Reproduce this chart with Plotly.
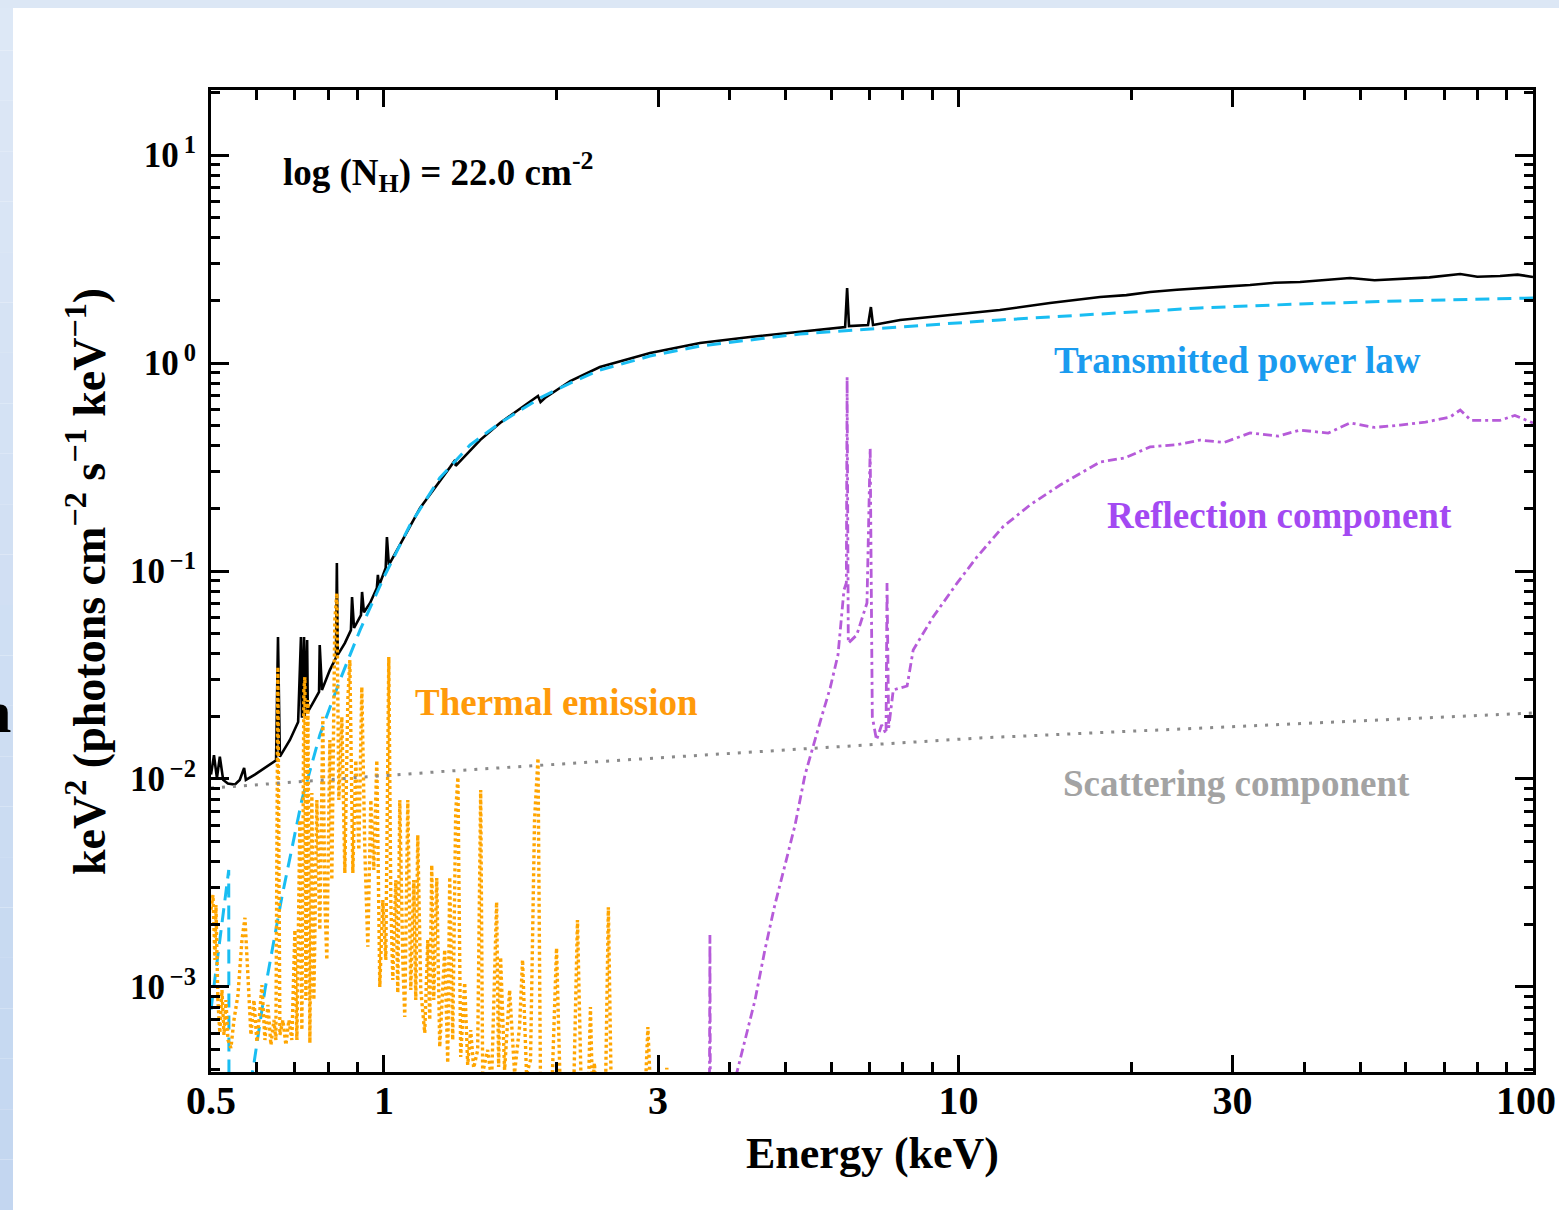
import plotly.graph_objects as go

# ---------------- spectral model components (E in keV, E^2 N(E) in keV^2 ph cm^-2 s^-1 keV^-1)
total_kev = [0.500, 0.506, 0.512, 0.518, 0.525, 0.535, 0.550, 0.561, 0.571, 0.575, 0.596, 0.621,
             0.649, 0.654, 0.659, 0.686, 0.709, 0.717, 0.720, 0.726, 0.728, 0.735, 0.737, 0.749,
             0.771, 0.773, 0.780, 0.805, 0.825, 0.828, 0.831, 0.855, 0.876, 0.880, 0.887, 0.912,
             0.916, 0.923, 0.946, 0.972, 0.976, 0.980, 1.007, 1.012, 1.020, 1.066, 1.156, 1.304,
             1.330, 1.333, 1.470, 1.592, 1.854, 1.873, 1.906, 2.110, 2.376, 2.905, 3.548, 4.336,
             5.300, 6.349, 6.400, 6.449, 6.960, 7.040, 7.100, 7.915, 9.668, 11.80, 14.43, 17.64,
             19.6, 21.55, 24.0, 26.33, 29.0, 32.17, 35.5, 39.31, 43.5, 48.03, 53.0, 58.69, 66.0,
             74.7, 80.0, 87.63, 94.0, 100.0]
total_flux = [0.0105, 0.0130, 0.0101, 0.0128, 0.0099, 0.0095, 0.0094, 0.0099, 0.0113, 0.0099, 0.0105, 0.0113,
              0.0123, 0.0482, 0.0128, 0.0154, 0.0188, 0.0482, 0.0197, 0.0482, 0.0201, 0.0466, 0.0210, 0.0227,
              0.0262, 0.0441, 0.0268, 0.0334, 0.0382, 0.1093, 0.0395, 0.0450, 0.0520, 0.0750, 0.0532, 0.0614,
              0.0793, 0.0633, 0.0702, 0.0829, 0.0958, 0.0847, 0.1034, 0.1457, 0.1069, 0.1334, 0.2009, 0.3162,
              0.342, 0.320, 0.426, 0.515, 0.694, 0.649, 0.679, 0.819, 0.957, 1.117, 1.248, 1.334,
              1.409, 1.489, 2.294, 1.506, 1.523, 1.858, 1.523, 1.610, 1.701, 1.798, 1.944, 2.076,
              2.12, 2.194, 2.25, 2.294, 2.33, 2.371, 2.43, 2.452, 2.50, 2.561, 2.50, 2.533, 2.58,
              2.677, 2.60, 2.620, 2.66, 2.592]

transmitted_kev = [0.500, 0.5368, 0.5375, 0.5916, 0.6206, 0.6643, 0.7197, 0.7734, 0.8385, 0.9086, 1.000,
                   1.110, 1.2505, 1.4125, 1.592, 1.870, 2.110, 2.376, 2.905, 3.548, 5.300, 7.920,
                   11.80, 17.60, 26.30, 39.30, 58.70, 100.0]
transmitted_flux = [0.00078, 0.00365, 0.00015, 0.000399, 0.000967, 0.00271, 0.00793, 0.01628, 0.02992, 0.0520, 0.0936,
                    0.1664, 0.280, 0.4035, 0.515, 0.679, 0.801, 0.925, 1.080, 1.207, 1.379, 1.489,
                    1.610, 1.720, 1.839, 1.922, 1.987, 2.054]

thermal_kev = [0.500, 0.504, 0.508, 0.510, 0.514, 0.518, 0.5225, 0.5267, 0.5309, 0.5352, 0.5416, 0.5482,
               0.5570, 0.5660, 0.5729, 0.5798, 0.5868, 0.5939, 0.6010, 0.6083, 0.6132, 0.6206, 0.6281,
               0.6357, 0.6434, 0.6485, 0.6537, 0.6590, 0.6670, 0.6750, 0.6832, 0.6914, 0.6998, 0.7054,
               0.7139, 0.7197, 0.7255, 0.7284, 0.7313, 0.7372, 0.7431, 0.7490, 0.7551, 0.7642, 0.7734,
               0.7827, 0.7890, 0.7954, 0.8050, 0.8115, 0.8213, 0.8279, 0.8346, 0.8447, 0.8549, 0.8652,
               0.8722, 0.8827, 0.8934, 0.9042, 0.9151, 0.9262, 0.9374, 0.9487, 0.9602, 0.9718, 0.9835,
               0.9954, 1.0074, 1.0196, 1.0278, 1.0361, 1.0486, 1.0570, 1.0655, 1.0784, 1.0870, 1.1002,
               1.1135, 1.1269, 1.1360, 1.1451, 1.1590, 1.1776, 1.1919, 1.2015, 1.2111, 1.2209, 1.2356,
               1.2505, 1.2606, 1.2758, 1.2912, 1.3016, 1.3173, 1.3332, 1.3450, 1.3601, 1.3821, 1.3988,
               1.4157, 1.4328, 1.4559, 1.4735, 1.4853, 1.5152, 1.5397, 1.5707, 1.5834, 1.5961, 1.6219,
               1.6546, 1.6879, 1.7219, 1.7428, 1.7709, 1.7994, 1.8285, 1.8540, 1.8730, 1.9574, 1.9971,
               2.0292, 2.1374, 2.1719, 2.2069, 2.2694, 2.2877, 2.3061, 2.3247, 2.3434, 2.4288, 2.4582,
               2.4879, 2.8456, 2.8800, 2.9148, 3.0819, 3.1066, 3.1314, 3.5485]
thermal_flux = [0.00235, 0.00277, 0.00135, 0.00248, 0.000866, 0.000601, 0.000967, 0.000588, 0.000866, 0.000556,
                0.000509, 0.000694, 0.000915, 0.00168, 0.00215, 0.00102, 0.000588, 0.000866, 0.000544, 0.000775,
                0.00102, 0.000556, 0.000820, 0.000526, 0.000694, 0.000556, 0.0346, 0.000588, 0.000694, 0.000526,
                0.000694, 0.000556, 0.00188, 0.000556, 0.00635, 0.000621, 0.0268, 0.0309, 0.000866, 0.0240,
                0.000538, 0.00856, 0.000866, 0.00793, 0.00188, 0.0199, 0.00262, 0.00135, 0.0154, 0.00327,
                0.0581, 0.0784, 0.00793, 0.0199, 0.00353, 0.0240, 0.0373, 0.00353, 0.0123, 0.00456,
                0.0277, 0.00456, 0.00156, 0.00793, 0.00365, 0.0123, 0.00100, 0.00262, 0.00135, 0.0386,
                0.00262, 0.00108, 0.00327, 0.000936, 0.00793, 0.00135, 0.000717, 0.00793, 0.000967, 0.00327,
                0.000866, 0.00538, 0.000967, 0.000601, 0.00168, 0.000694, 0.00386, 0.000866, 0.00334, 0.000515,
                0.000866, 0.00151, 0.000431, 0.00338, 0.000556, 0.00694, 0.0102, 0.000461, 0.00105, 0.000422,
                0.000621, 0.000408, 0.000498, 0.00886, 0.000386, 0.000498, 0.000357, 0.00256, 0.000412, 0.00139,
                0.000399, 0.000967, 0.000386, 0.000642, 0.00135, 0.000378, 0.000446, 0.00635, 0.0126, 0.000320,
                0.000286, 0.00154, 0.000286, 0.000286, 0.00210, 0.000286, 0.000320, 0.000801, 0.000320, 0.000431,
                0.000286, 0.000286, 0.00242, 0.000286, 0.000286, 0.000642, 0.000286, 0.000286, 0.000408, 0.000286,
                0.000256]

reflection_kev = [3.62, 3.685, 3.693, 3.70, 4.10, 4.116, 4.251, 4.425, 4.604, 4.79, 4.99, 5.195, 5.405,
                  5.56, 5.79, 5.98, 6.17, 6.32, 6.38, 6.40, 6.43, 6.65, 6.93, 7.02, 7.08, 7.20, 7.35,
                  7.48, 7.51, 7.56, 7.70, 8.14, 8.34, 9.03, 9.95, 10.77, 11.95, 13.33, 15.03, 17.64,
                  19.5, 21.55, 24.0, 26.33, 29.0, 32.17, 36.0, 39.31, 44.0, 48.03, 53.0, 58.69, 65.0,
                  71.72, 74.7, 78.0, 87.63, 93.0, 100.0]
reflection_flux = [0.00025, 0.00025, 0.00178, 0.00025, 0.00025, 0.00039, 0.000556, 0.000866, 0.00151, 0.00248,
                   0.00386, 0.00601, 0.01045, 0.0138, 0.0203, 0.0274, 0.0395, 0.0811, 0.0876, 0.856, 0.045,
                   0.0492, 0.0702, 0.390, 0.0199, 0.0154, 0.0182, 0.0165, 0.0876, 0.0176, 0.0268, 0.0280,
                   0.0417, 0.0601, 0.0876, 0.1168, 0.163, 0.208, 0.259, 0.334, 0.350, 0.395, 0.405, 0.426,
                   0.415, 0.461, 0.445, 0.476, 0.460, 0.515, 0.490, 0.503, 0.520, 0.550, 0.594, 0.530, 0.530,
                   0.560, 0.515]

scattering_kev = [0.5, 1.304, 3.548, 10.9, 32.17, 100.0]
scattering_flux = [0.00905, 0.01093, 0.0130, 0.01575, 0.0180, 0.02077]

# the last label ("100") sits at the page edge and is written separately so it stays inside the page
x_tickvals = [0.5, 1, 3, 10, 30, 100]
x_ticktext = ["0.5", "1", "3", "10", "30", ""]
x_edge_label = "100"
x_minorvals = [0.6, 0.7, 0.8, 0.9, 2, 4, 5, 6, 7, 8, 9, 20, 40, 50, 60, 70, 80, 90]
y_tickvals = [1e-3, 1e-2, 1e-1, 1, 10]
y_ticktext = ["10<sup>\u2009−3</sup>", "10<sup>\u2009−2</sup>", "10<sup>\u2009−1</sup>",
              "10<sup>\u20090</sup>", "10<sup>\u20091</sup>"]
y_minorvals = [m * 10.0 ** k for k in range(-4, 2) for m in range(2, 10)]

# ---------------- page geometry (pixels)
W, H = 1559, 1210
L, R, T, B = 211, 1533, 90, 1072
SERIF = "Liberation Serif, Times New Roman, serif"


def px(xp):
    return (xp - L) / (R - L)


def py(yp):
    return (B - yp) / (B - T)


fig = go.Figure()

fig.add_trace(go.Scatter(x=total_kev, y=total_flux, mode="lines",
                         line=dict(color="black", width=2.6), name="Total"))
fig.add_trace(go.Scatter(x=transmitted_kev, y=transmitted_flux, mode="lines",
                         line=dict(color="#19bdf2", width=3, dash="14px,8px"), name="Transmitted"))
fig.add_trace(go.Scatter(x=thermal_kev, y=thermal_flux, mode="lines",
                         line=dict(color="#ffa500", width=3.4, dash="3px,3px"), name="Thermal"))
fig.add_trace(go.Scatter(x=reflection_kev, y=reflection_flux, mode="lines",
                         line=dict(color="#b65bd9", width=2.8, dash="9px,4px,3px,4px"), name="Reflection"))
fig.add_trace(go.Scatter(x=scattering_kev, y=scattering_flux, mode="lines",
                         line=dict(color="#8a8a8a", width=3, dash="3px,8px"), name="Scattering"))

axis_common = dict(
    showline=True, linecolor="black", linewidth=3, mirror="allticks",
    ticks="inside", tickcolor="black", tickwidth=3,
    showgrid=False, zeroline=False,
)

fig.update_xaxes(type="log", range=[-0.30103, 2.0], tickmode="array",
                 tickvals=x_tickvals, ticktext=x_ticktext, ticklen=17,
                 ticklabelstandoff=-9,
                 tickfont=dict(family=SERIF, size=40, color="black", weight="bold"),
                 minor=dict(tickmode="array", tickvals=x_minorvals, ticks="inside",
                            ticklen=10, tickwidth=2.5, tickcolor="black", showgrid=False),
                 **axis_common)
fig.update_yaxes(type="log", range=[-3.4087, 1.3125], tickmode="array",
                 tickvals=y_tickvals, ticktext=y_ticktext, ticklen=18,
                 ticklabelstandoff=5,
                 tickfont=dict(family=SERIF, size=35, color="black", weight="bold"),
                 minor=dict(tickmode="array", tickvals=y_minorvals, ticks="inside",
                            ticklen=9, tickwidth=2.5, tickcolor="black", showgrid=False),
                 **axis_common)

# slide backdrop: pale blue strips on the left and top edges
shapes = []
n_seg = 24
top_col = (222, 232, 246)
bot_col = (194, 214, 240)
for i in range(n_seg):
    f = (i + 0.5) / n_seg
    c = tuple(int(round(top_col[j] + (bot_col[j] - top_col[j]) * f)) for j in range(3))
    y0 = H * i / n_seg
    y1 = H * (i + 1) / n_seg
    shapes.append(dict(type="rect", xref="paper", yref="paper",
                       x0=px(0), x1=px(13), y0=py(y1), y1=py(y0),
                       fillcolor="rgb(%d,%d,%d)" % c, line=dict(width=0), layer="below"))
shapes.append(dict(type="rect", xref="paper", yref="paper",
                   x0=px(0), x1=px(W), y0=py(8), y1=py(0),
                   fillcolor="rgb(220,231,245)", line=dict(width=0), layer="below"))

annotations = [
    dict(text="<b>log (N<sub>H</sub>) = 22.0 cm<sup>-2</sup></b>", x=px(281), y=py(172),
         xanchor="left", yanchor="middle", font=dict(family=SERIF, size=37, color="black")),
    dict(text="<b>Transmitted power law</b>", x=px(1052), y=py(360),
         xanchor="left", yanchor="middle", font=dict(family=SERIF, size=37, color="#1a9bef")),
    dict(text="<b>Reflection component</b>", x=px(1105), y=py(515),
         xanchor="left", yanchor="middle", font=dict(family=SERIF, size=37, color="#a349f2")),
    dict(text="<b>Thermal emission</b>", x=px(413), y=py(702),
         xanchor="left", yanchor="middle", font=dict(family=SERIF, size=37, color="#ff9a0a")),
    dict(text="<b>Scattering component</b>", x=px(1061), y=py(783),
         xanchor="left", yanchor="middle", font=dict(family=SERIF, size=37, color="#a3a3a3")),
    dict(text="<b>Energy (keV)</b>", x=px(872), y=py(1153),
         xanchor="center", yanchor="middle", font=dict(family=SERIF, size=44, color="black")),
    dict(text="<b>keV<sup>2</sup> (photons cm<sup>−2</sup> s<sup>−1</sup> keV<sup>−1</sup>)</b>",
         x=px(86), y=py(582), textangle=-90,
         xanchor="center", yanchor="middle", font=dict(family=SERIF, size=46, color="black")),
    dict(text="<b>%s</b>" % x_edge_label, x=px(W - 1), y=py(1100),
         xanchor="right", yanchor="middle", font=dict(family=SERIF, size=40, color="black")),
    dict(text="<b>n</b>", x=px(13), y=py(712),
         xanchor="right", yanchor="middle", font=dict(family=SERIF, size=60, color="black")),
]
for a in annotations:
    a.update(xref="paper", yref="paper", showarrow=False)

fig.update_layout(
    width=W, height=H,
    margin=dict(l=L, r=W - R, t=T, b=H - B, pad=0),
    paper_bgcolor="white", plot_bgcolor="white",
    showlegend=False,
    shapes=shapes, annotations=annotations,
)

# keep the page exactly the size of the figure (no body margin, no scrollbars)
fig.write_html(
    "out.html",
    post_script=(
        "document.body.style.margin='0';"
        "document.body.style.overflow='hidden';"
        "document.documentElement.style.overflow='hidden';"
    ),
)
